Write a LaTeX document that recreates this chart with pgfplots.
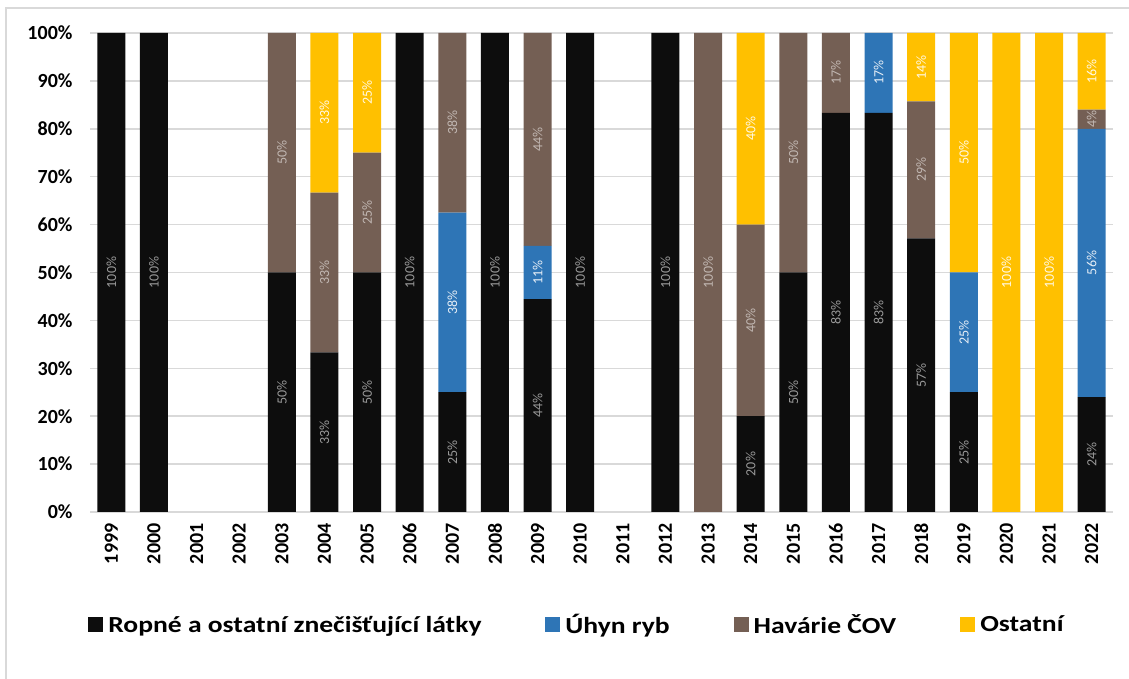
\documentclass[border=0pt]{standalone}
\usepackage{pgfplots}
\pgfplotsset{compat=1.18}
\usepackage{fontspec}
\setmainfont{Carlito}
\newfontfamily\legendfont[FakeStretch=1.2]{Carlito}
\definecolor{cblack}{HTML}{0D0D0D}
\definecolor{cblue}{HTML}{2E75B6}
\definecolor{cbrown}{HTML}{745F54}
\definecolor{cyellow}{HTML}{FFC000}
\definecolor{cgrid}{HTML}{D9D9D9}
\begin{document}
\begin{tikzpicture}
\path[use as bounding box] (0,0) rectangle (1129pt,679pt);
\draw[cgrid, line width=2pt] (6pt,0pt) -- (6pt,671pt) -- (1129pt,671pt);
\begin{axis}[
  at={(90pt,167pt)}, anchor=south west,
  scale only axis, width=1023pt, height=479pt,
  ybar stacked, bar width=28pt,
  xmin=-0.5, xmax=23.5, ymin=0, ymax=100,
  xtick={0,...,23},
  xticklabels={1999,2000,2001,2002,2003,2004,2005,2006,2007,2008,2009,2010,2011,2012,2013,2014,2015,2016,2017,2018,2019,2020,2021,2022},
  xticklabel style={rotate=90, anchor=east, font=\fontsize{20}{24}\selectfont\bfseries},
  xticklabel shift=8pt,
  ytick={0,10,...,100},
  yticklabel={\pgfmathprintnumber{\tick}\%},
  yticklabel style={font=\fontsize{20}{24}\selectfont\bfseries},
  yticklabel shift=14pt,
  /pgf/number format/assume math mode=true,
  major tick length=0pt,
  axis x line*=bottom,
  axis y line*=left,
  y axis line style={draw=none},
  x axis line style={cgrid, line width=1.5pt, -},
  ymajorgrids, grid style={cgrid, line width=1.5pt},
  legend style={at={(0.476,-0.205)}, anchor=north, draw=none, fill=none,
    font=\legendfont\fontsize{23}{28}\selectfont\bfseries, legend columns=4,
    /tikz/every even column/.append style={column sep=62pt},
    /tikz/every odd column/.append style={column sep=3pt}},
  legend image code/.code={\fill[#1] (0pt,-7.5pt) rectangle (15pt,7.5pt);},
]
\addplot[fill=cblack, draw=none] coordinates {(0,100) (1,100) (2,0) (3,0) (4,50) (5,33.33) (6,50) (7,100) (8,25) (9,100) (10,44.44) (11,100) (12,0) (13,100) (14,0) (15,20) (16,50) (17,83.33) (18,83.33) (19,57.14) (20,25) (21,0) (22,0) (23,24)};
\addlegendentry{Ropné a ostatní znečišťující látky}
\addplot[fill=cblue, draw=none] coordinates {(0,0) (1,0) (2,0) (3,0) (4,0) (5,0) (6,0) (7,0) (8,37.5) (9,0) (10,11.12) (11,0) (12,0) (13,0) (14,0) (15,0) (16,0) (17,0) (18,16.67) (19,0) (20,25) (21,0) (22,0) (23,56)};
\addlegendentry{Úhyn ryb}
\addplot[fill=cbrown, draw=none] coordinates {(0,0) (1,0) (2,0) (3,0) (4,50) (5,33.33) (6,25) (7,0) (8,37.5) (9,0) (10,44.44) (11,0) (12,0) (13,0) (14,100) (15,40) (16,50) (17,16.67) (18,0) (19,28.57) (20,0) (21,0) (22,0) (23,4)};
\addlegendentry{Havárie ČOV}
\addplot[fill=cyellow, draw=none] coordinates {(0,0) (1,0) (2,0) (3,0) (4,0) (5,33.34) (6,25) (7,0) (8,0) (9,0) (10,0) (11,0) (12,0) (13,0) (14,0) (15,40) (16,0) (17,0) (18,0) (19,14.29) (20,50) (21,100) (22,100) (23,16)};
\addlegendentry{Ostatní}
\end{axis}
\begin{axis}[
  at={(90pt,167pt)}, anchor=south west,
  scale only axis, width=1023pt, height=479pt,
  xmin=-0.5, xmax=23.5, ymin=0, ymax=100,
  hide axis, clip=false,
  nodes near coords={\pgfplotspointmeta},
  nodes near coords align=center,
  point meta=explicit symbolic,
]
\addplot[draw=none, mark=none, nodes near coords style={rotate=90, anchor=center, font=\fontsize{14}{16}\selectfont, text=black!40}]
 table[meta=l] {
x y l
0 50 100\%
1 50 100\%
4 25 50\%
5 16.67 33\%
6 25 50\%
7 50 100\%
8 12.5 25\%
9 50 100\%
10 22.22 44\%
11 50 100\%
13 50 100\%
15 10 20\%
16 25 50\%
17 41.67 83\%
18 41.67 83\%
19 28.57 57\%
20 12.5 25\%
23 12 24\%
};
\addplot[draw=none, mark=none, nodes near coords style={rotate=90, anchor=center, font=\fontsize{14}{16}\selectfont, text=white!88!cblue}]
 table[meta=l] {
x y l
8 43.75 38\%
10 50 11\%
18 91.67 17\%
20 37.5 25\%
23 52 56\%
};
\addplot[draw=none, mark=none, nodes near coords style={rotate=90, anchor=center, font=\fontsize{14}{16}\selectfont, text=white!55!cbrown}]
 table[meta=l] {
x y l
4 75 50\%
5 50 33\%
6 62.5 25\%
8 81.25 38\%
10 77.78 44\%
14 50 100\%
15 40 40\%
16 75 50\%
17 91.67 17\%
19 71.43 29\%
23 82 4\%
};
\addplot[draw=none, mark=none, nodes near coords style={rotate=90, anchor=center, font=\fontsize{14}{16}\selectfont, text=white!90!cyellow}]
 table[meta=l] {
x y l
5 83.33 33\%
6 87.5 25\%
15 80 40\%
19 92.86 14\%
20 75 50\%
21 50 100\%
22 50 100\%
23 92 16\%
};
\end{axis}
\end{tikzpicture}
\end{document}
